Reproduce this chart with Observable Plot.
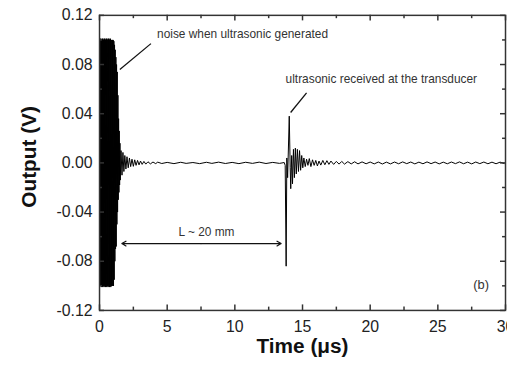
<!DOCTYPE html>
<html><head><meta charset="utf-8">
<script src="https://cdn.jsdelivr.net/npm/d3@7"></script>
<script src="https://cdn.jsdelivr.net/npm/@observablehq/plot@0.6"></script>
<style>html,body{margin:0;padding:0;overflow:hidden;background:#fff}</style>
</head><body><div id="chart"></div>
<script>
// Signal pieces [time (µs), output (V)]
const burst = [
[0.05,0],[0.06,0.101],[0.085,-0.100],[0.11,0.101],[0.135,-0.101],[0.16,0.100],[0.185,-0.100],[0.21,0.101],[0.235,-0.101],[0.26,0.101],
[0.285,-0.100],[0.31,0.100],[0.335,-0.101],[0.36,0.101],[0.385,-0.100],[0.41,0.101],[0.435,-0.101],[0.46,0.100],[0.485,-0.100],[0.51,0.101],
[0.535,-0.101],[0.56,0.101],[0.585,-0.100],[0.61,0.100],[0.635,-0.101],[0.66,0.101],[0.685,-0.100],[0.71,0.101],[0.735,-0.101],[0.76,0.100],
[0.785,-0.100],[0.81,0.101],[0.835,-0.101],[0.86,0.100],[0.885,-0.100],[0.91,0.100],[0.935,-0.100],[0.96,0.100],[0.985,-0.100],[1.01,0.100],
[1.035,-0.100],[1.06,0.099]
];
const burstDecay = [
[1.085,-0.095],[1.11,0.096],[1.135,-0.080],[1.16,0.092],[1.185,-0.070],[1.21,0.086],[1.235,-0.068],[1.26,0.080],[1.285,-0.050],[1.31,0.074],
[1.335,-0.040],[1.36,0.055],[1.385,-0.030],[1.41,0.036],[1.435,-0.024],[1.46,0.026],[1.485,-0.018],[1.51,0.016],[1.535,-0.014]
];
const ringdown = [
[1.59,0.010],[1.66,-0.010],[1.73,0.0085],[1.80,-0.007],[1.87,0.006],[1.95,-0.005],[2.03,0.005],[2.12,-0.004],[2.21,0.004],[2.30,-0.003],
[2.40,0.003],[2.50,-0.0028],[2.60,0.0025],[2.70,-0.002],[2.81,0.002],[2.92,-0.0016],[3.03,0.0015],[3.15,-0.0012],[3.28,0.0012],[3.42,-0.001],
[3.58,0.0009],[3.76,-0.0008],[3.95,0.0007],[4.15,-0.0006]
];
const baseline = [
[4.3,0.0006],[4.6,-0.0005],[5.0,0.0004],[5.5,-0.0006],[6.0,0.0005],[6.4,-0.0004],[6.9,0.0003],[7.4,-0.0006],[7.9,0.0005],[8.3,-0.0004],
[8.8,0.0006],[9.3,-0.0005],[9.8,0.0004],[10.3,-0.0006],[10.8,0.0005],[11.3,-0.0004],[11.8,0.0006],[12.3,-0.0005],[12.8,0.0004],[13.3,-0.0004],[13.65,0.0003]
];
const echo = [
[13.72,-0.002],[13.79,-0.084],[13.84,0.004],[13.9,-0.012],[14.02,0.038],[14.09,-0.004],[14.13,-0.021],[14.2,0.006],[14.26,-0.017],[14.33,0.011],
[14.4,-0.012],[14.47,0.012],[14.54,-0.009],[14.62,0.011],[14.7,-0.007],[14.78,0.010],[14.86,-0.006],[14.94,0.006],[15.02,-0.004],[15.1,0.004],
[15.2,-0.003],[15.3,0.003],[15.4,-0.002],[15.5,0.0035],[15.62,-0.003],[15.74,0.0025],[15.86,-0.002],[15.98,0.002],[16.1,-0.0025],[16.22,0.0015],
[16.35,-0.0018],[16.5,0.002],[16.65,-0.0015],[16.8,0.0018],[16.95,-0.0012],[17.1,0.0015],[17.3,-0.0012],[17.5,0.0012],[17.7,-0.001],[17.9,0.0012],
[18.1,-0.001],[18.35,0.001],[18.6,-0.0008],[18.85,0.0009],[19.1,-0.0008],[19.4,0.0008],[19.7,-0.0007],[20.0,0.0007]
];
const echoTail = [
[20.3,-0.0008],[20.6,0.0007],[20.9,-0.0009],[21.2,0.0006],[21.5,-0.0008],[21.8,0.0007],[22.1,-0.0007],[22.4,0.0008],[22.7,-0.0006],[23.0,0.0007],
[23.3,-0.0008],[23.6,0.0006],[23.9,-0.0007],[24.2,0.0008],[24.5,-0.0006],[24.8,0.0007],[25.1,-0.0008],[25.4,0.0006],[25.7,-0.0007],[26.0,0.0007],
[26.3,-0.0006],[26.6,0.0008],[26.9,-0.0007],[27.2,0.0006],[27.5,-0.0008],[27.8,0.0007],[28.1,-0.0006],[28.4,0.0007],[28.7,-0.0007],[29.0,0.0006],
[29.3,-0.0007],[29.6,0.0006],[29.9,-0.0005]
];

const xMajor = [0,5,10,15,20,25,30];
const xMinor = [2.5,7.5,12.5,17.5,22.5,27.5];
const yMajor = [-0.12,-0.08,-0.04,0,0.04,0.08,0.12];
const yMinor = [-0.10,-0.06,-0.02,0.02,0.06,0.10];

const notes = [
  {t: 4.25, v: 0.105, text: "noise when ultrasonic generated"},
  {t: 13.75, v: 0.068, text: "ultrasonic received at the transducer"}
];
const pointers = [
  {t1: 3.8, v1: 0.097, t2: 1.5, v2: 0.076},
  {t1: 15.3, v1: 0.057, t2: 14.12, v2: 0.041}
];
const span = {t1: 1.65, t2: 13.42, v: -0.0656, mid: 7.5, label: "L ~ 20 mm", labelT: 7.9, labelV: -0.056};
const panel = {t: 28.2, v: -0.0995, text: "(b)"};

const signal = [...burst, ...burstDecay, ...ringdown, ...baseline, ...echo, ...echoTail];

const tx = 0.37, ty = 0.0045, mtx = 0.22, mty = 0.0027;

const chart = Plot.plot({
  width: 512, height: 366,
  marginLeft: 100, marginRight: 2, marginTop: 15, marginBottom: 53,
  style: {fontFamily: "'Liberation Sans', Arial, sans-serif", color: "#222", background: "#fff"},
  x: {domain: [0, 30]},
  y: {domain: [-0.12, 0.12]},
  marks: [
    Plot.line(signal, {x: d => d[0], y: d => d[1], stroke: "#000", strokeWidth: 1}),
    // inward ticks
    Plot.ruleX(xMajor, {x: d => d, y1: -0.12, y2: -0.12 + ty, stroke: "#333", strokeWidth: 1.5}),
    Plot.ruleX(xMajor, {x: d => d, y1: 0.12, y2: 0.12 - ty, stroke: "#333", strokeWidth: 1.5}),
    Plot.ruleX(xMinor, {x: d => d, y1: -0.12, y2: -0.12 + mty, stroke: "#333", strokeWidth: 1.5}),
    Plot.ruleX(xMinor, {x: d => d, y1: 0.12, y2: 0.12 - mty, stroke: "#333", strokeWidth: 1.5}),
    Plot.ruleY(yMajor, {y: d => d, x1: 0, x2: tx, stroke: "#333", strokeWidth: 1.5}),
    Plot.ruleY(yMajor, {y: d => d, x1: 30, x2: 30 - tx, stroke: "#333", strokeWidth: 1.5}),
    Plot.ruleY(yMinor, {y: d => d, x1: 0, x2: mtx, stroke: "#333", strokeWidth: 1.5}),
    Plot.ruleY(yMinor, {y: d => d, x1: 30, x2: 30 - mtx, stroke: "#333", strokeWidth: 1.5}),
    Plot.frame({stroke: "#333", strokeWidth: 1.5}),
    Plot.axisX(xMajor, {tickSize: 0, tickPadding: 10, fontSize: 16, tickFormat: d => String(d), label: null}),
    Plot.axisY(yMajor, {tickSize: 0, tickPadding: 7, fontSize: 16, tickFormat: d => d.toFixed(2), label: null}),
    Plot.text(["Time (\u03bcs)"], {frameAnchor: "bottom", dy: 36, lineAnchor: "middle", textAnchor: "middle", fontSize: 21, fontWeight: "bold", fill: "#111"}),
    Plot.text(["Output (V)"], {frameAnchor: "left", dx: -71, dy: -6, rotate: -90, lineAnchor: "middle", textAnchor: "middle", fontSize: 21, fontWeight: "bold", fill: "#111"}),
    // annotations
    Plot.text(notes, {x: "t", y: "v", text: "text", textAnchor: "start", fontSize: 12, fill: "#333"}),
    Plot.link(pointers, {x1: "t1", y1: "v1", x2: "t2", y2: "v2", stroke: "#111", strokeWidth: 1.3}),
    Plot.arrow([span], {x1: "mid", y1: "v", x2: "t1", y2: "v", stroke: "#111", strokeWidth: 1.2, headLength: 6, bend: 0}),
    Plot.arrow([span], {x1: "mid", y1: "v", x2: "t2", y2: "v", stroke: "#111", strokeWidth: 1.2, headLength: 6, bend: 0}),
    Plot.text([span], {x: "labelT", y: "labelV", text: "label", fontSize: 12, fill: "#333"}),
    Plot.text([panel], {x: "t", y: "v", text: "text", fontSize: 13, fill: "#333"})
  ]
});
document.getElementById("chart").appendChild(chart);
</script>
</body></html>
